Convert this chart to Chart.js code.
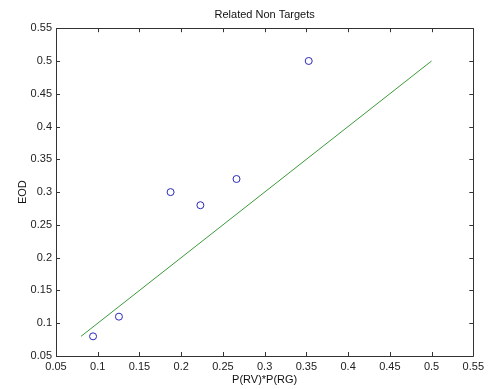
<!DOCTYPE html>
<html><head><meta charset="utf-8">
<script src="https://cdn.jsdelivr.net/npm/chart.js@4"></script>
<style>html,body{margin:0;padding:0;background:#fff}#wrap{width:488px;height:389px}</style>
</head><body><div id="wrap"><canvas id="c" width="488" height="389"></canvas></div>
<script>
const pointX = [0.0944, 0.1254, 0.1873, 0.2230, 0.2663, 0.3528];
const pointY = [0.080, 0.110, 0.300, 0.280, 0.320, 0.500];
const lineX = [0.08, 0.50];
const lineY = [0.08, 0.50];
const xTicks = [0.05,0.1,0.15,0.2,0.25,0.3,0.35,0.4,0.45,0.5,0.55];
const yTicks = [0.05,0.1,0.15,0.2,0.25,0.3,0.35,0.4,0.45,0.5,0.55];
const titleText = 'Related Non Targets';
const xLabel = 'P(RV)*P(RG)';
const yLabel = 'EOD';

const FONT = {family: "'Liberation Sans', Arial, sans-serif", size: 11};
const fmt = v => String(parseFloat(Number(v).toFixed(2)));

const boxPlugin = {
  id: 'box',
  afterDraw(chart) {
    const {ctx, chartArea: a, scales: {x, y}} = chart;
    ctx.save();
    ctx.strokeStyle = '#333';
    ctx.lineWidth = 1;
    ctx.beginPath();
    ctx.rect(Math.round(a.left) + 0.5, Math.round(a.top) + 0.5, Math.round(a.right - a.left), Math.round(a.bottom - a.top));
    ctx.stroke();
    const L = 4;
    ctx.beginPath();
    xTicks.forEach(v => {
      const px = Math.round(x.getPixelForValue(v)) + 0.5;
      ctx.moveTo(px, a.bottom); ctx.lineTo(px, a.bottom - L);
      ctx.moveTo(px, a.top); ctx.lineTo(px, a.top + L);
    });
    yTicks.forEach(v => {
      const py = Math.round(y.getPixelForValue(v)) + 0.5;
      ctx.moveTo(a.left, py); ctx.lineTo(a.left + L, py);
      ctx.moveTo(a.right, py); ctx.lineTo(a.right - L, py);
    });
    ctx.stroke();
    ctx.restore();
  }
};

new Chart(document.getElementById('c'), {
  data: {
    datasets: [
      {type: 'line', data: lineX.map((v, i) => ({x: v, y: lineY[i]})), borderColor: '#3a9a3a', borderWidth: 1, pointRadius: 0, fill: false, order: 2},
      {type: 'scatter', data: pointX.map((v, i) => ({x: v, y: pointY[i]})), pointStyle: 'circle', pointRadius: 3.5, borderColor: '#2828b8', backgroundColor: 'rgba(0,0,0,0)', borderWidth: 1, order: 1}
    ]
  },
  options: {
    responsive: false, animation: false,
    layout: {padding: {left: 0, right: 12, top: 0, bottom: 0}},
    plugins: {
      legend: {display: false}, tooltip: {enabled: false},
      title: {display: true, fullSize: false, text: titleText, color: '#111', font: {...FONT, weight: 'normal'}, padding: {top: 8, bottom: 7}}
    },
    scales: {
      x: {
        type: 'linear', min: 0.05, max: 0.55,
        afterBuildTicks: s => { s.ticks = xTicks.map(v => ({value: v})); },
        afterFit: s => { s.height = 33; },
        grid: {display: false, drawTicks: false},
        border: {display: false},
        ticks: {color: '#222', font: FONT, padding: 4, maxRotation: 0, autoSkip: false, callback: v => fmt(v)},
        title: {display: true, text: xLabel, color: '#111', font: FONT, padding: {top: 0, bottom: 2}}
      },
      y: {
        type: 'linear', min: 0.05, max: 0.55,
        afterBuildTicks: s => { s.ticks = yTicks.map(v => ({value: v})); },
        afterFit: s => { s.width = 56; },
        grid: {display: false, drawTicks: false},
        border: {display: false},
        ticks: {color: '#222', font: FONT, padding: 4, autoSkip: false, callback: v => fmt(v)},
        title: {display: true, text: yLabel, color: '#111', font: FONT, padding: {top: 16, bottom: 0}}
      }
    }
  },
  plugins: [boxPlugin]
});
</script></body></html>
